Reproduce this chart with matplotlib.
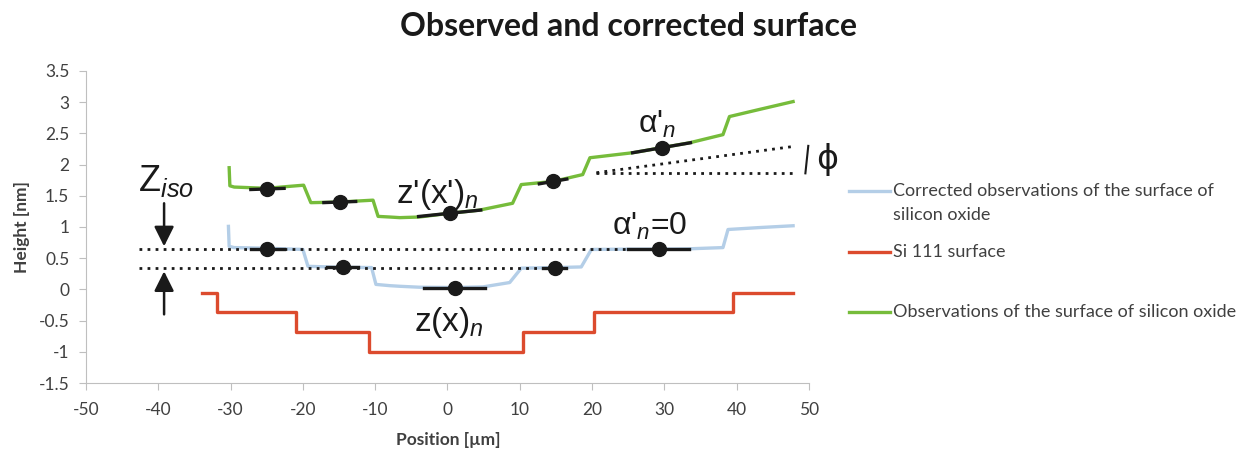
import numpy as np
import matplotlib.pyplot as plt
from matplotlib.lines import Line2D

plt.rcParams['font.family'] = ['Lato', 'DejaVu Sans']
plt.rcParams['axes.unicode_minus'] = False
plt.rcParams['mathtext.fontset'] = 'custom'
plt.rcParams['mathtext.rm'] = 'Liberation Sans'
plt.rcParams['mathtext.it'] = 'Liberation Sans:italic'

# Si 111 surface (drawn as steps)
si_x = [-33.9, -31.9, -21.0, -10.9, 10.5, 20.2, 39.5, 47.8]
si_y = [-0.06, -0.37, -0.69, -1.0, -0.69, -0.37, -0.06, -0.06]

# observed surface of silicon oxide
obs_x = [-30.2, -30.1, -29.5, -25.0, -22.0, -19.9, -18.9, -15.0, -10.3, -9.6, -8.0, -6.6,
         -3.9, 0.3, 4.4, 9.0, 10.2, 14.6, 18.7, 19.7, 25.6, 29.6, 33.5, 38.1, 39.0, 43.0, 47.8]
obs_y = [1.95, 1.66, 1.64, 1.62, 1.65, 1.67, 1.39, 1.40, 1.43, 1.17, 1.16, 1.15,
         1.16, 1.22, 1.27, 1.38, 1.68, 1.73, 1.84, 2.11, 2.19, 2.27, 2.35, 2.48, 2.77, 2.88, 3.01]

# corrected surface
cor_x = [-30.3, -30.2, -29.5, -25.0, -20.0, -19.3, -15.0, -10.5, -9.9, -8.0, -6.6, -3.9,
         1.0, 4.9, 8.6, 10.2, 15.0, 18.5, 19.9, 25.0, 29.2, 33.3, 38.1, 38.8, 43.0, 47.8]
cor_y = [1.01, 0.69, 0.67, 0.66, 0.64, 0.37, 0.355, 0.35, 0.08, 0.06, 0.05, 0.035,
         0.03, 0.04, 0.11, 0.34, 0.35, 0.36, 0.64, 0.645, 0.645, 0.65, 0.67, 0.96, 0.99, 1.02]

# local terrace points with their tangent segments
obs_pt_x = [-24.9, -14.9, 0.3, 14.6, 29.6]
obs_pt_y = [1.61, 1.40, 1.22, 1.73, 2.27]
obs_pt_half = [2.3, 2.2, 4.3, 1.9, 4.0]
obs_pt_slope = [0.004, 0.004, 0.012, 0.02, 0.02]
cor_pt_x = [-24.9, -14.5, 1.0, 14.8, 29.2]
cor_pt_y = [0.655, 0.355, 0.03, 0.35, 0.645]
cor_pt_half = [2.3, 2.1, 4.2, 1.6, 4.2]

# reference levels (dotted)
iso_levels = [0.655, 0.335]
iso_ends = [25.0, 13.2]
phi_x = [20.6, 47.8]
phi_flat = [1.87, 1.87]
phi_tilt = [1.87, 2.29]

labels = ['Corrected observations of the surface of\nsilicon oxide', 'Si 111 surface',
          'Observations of the surface of silicon oxide']
c_blue, c_red, c_green = '#B4CEE7', '#DC4B2E', '#76BC3B'
ink = '#1a1a1a'
grey_txt = '#404040'
sym_font = ['Liberation Sans', 'DejaVu Sans']

W, H = 1257, 454
fig = plt.figure(figsize=(W / 100, H / 100), dpi=100)
ax = fig.add_axes([86 / W, 1 - 383 / H, (809 - 86) / W, (383 - 71) / H])

ax.plot(cor_x, cor_y, color=c_blue, lw=2.4, solid_joinstyle='round')
ax.plot(si_x, si_y, color=c_red, lw=2.4, drawstyle='steps-post')
ax.plot(obs_x, obs_y, color=c_green, lw=2.4, solid_joinstyle='round')

dots = (0, (1, 1.9))
for lev, end in zip(iso_levels, iso_ends):
    ax.plot([-42.7, end], [lev, lev], color=ink, lw=2.0, linestyle=dots)
ax.plot(phi_x, phi_flat, color=ink, lw=2.0, linestyle=dots)
ax.plot(phi_x, phi_tilt, color=ink, lw=2.0, linestyle=dots)

for x, y, h, s in zip(obs_pt_x, obs_pt_y, obs_pt_half, obs_pt_slope):
    ax.plot([x - h, x + h], [y - s * h, y + s * h], color=ink, lw=2.4)
for x, y, h in zip(cor_pt_x, cor_pt_y, cor_pt_half):
    ax.plot([x - h, x + h], [y, y], color=ink, lw=2.4)
ax.plot(obs_pt_x, obs_pt_y, 'o', ms=10, color=ink)
ax.plot(cor_pt_x, cor_pt_y, 'o', ms=10, color=ink)

# annotations
arrow = dict(arrowstyle='-|>,head_length=0.6,head_width=0.3', color=ink, lw=1.8,
             mutation_scale=20, shrinkA=0, shrinkB=0)
ax.annotate('', xy=(-39.2, 0.69), xytext=(-39.2, 1.38), arrowprops=arrow)
ax.annotate('', xy=(-39.2, 0.29), xytext=(-39.2, -0.40), arrowprops=arrow)
ax.text(-42.8, 1.57, r'Z$_{iso}$', fontsize=26, color=ink, va='baseline', family=sym_font)
ax.text(-7.1, 1.39, r"z'(x')$_n$", fontsize=24, color=ink, va='baseline', family=sym_font)
ax.text(-4.6, -0.67, r"z(x)$_n$", fontsize=24, color=ink, va='baseline', family=sym_font)
ax.text(26.3, 2.51, "\u03b1'$_n$", fontsize=23, color=ink, va='baseline', family=sym_font)
ax.text(22.7, 0.88, "\u03b1'$_n$=0", fontsize=23, color=ink, va='baseline', family=sym_font)
ax.plot([49.9, 49.5], [2.30, 1.86], color=ink, lw=1.5, clip_on=False)
ax.text(51.0, 2.08, '\u03d5', fontsize=24, color=ink, va='center', family='DejaVu Sans')

ax.set_xlim(-50, 50)
ax.set_ylim(-1.5, 3.5)
ax.set_xticks(np.arange(-50, 51, 10))
ax.set_yticks(np.arange(-1.5, 3.6, 0.5))
ax.set_yticklabels([f'{v:g}' for v in np.arange(-1.5, 3.6, 0.5)])
for side in ['top', 'right']:
    ax.spines[side].set_visible(False)
for side in ['left', 'bottom']:
    ax.spines[side].set_color('#BFBFBF')
ax.tick_params(axis='both', direction='out', length=5, color='#BFBFBF', labelsize=12.5,
               labelcolor=grey_txt)
ax.tick_params(axis='y', pad=7)
ax.tick_params(axis='x', pad=9)

fig.text(22 / W, 1 - 227 / H, 'Height [nm]', rotation=90, ha='center', va='center',
         fontsize=12.5, weight='bold', color=grey_txt)
fig.text(448 / W, 1 - 440 / H, 'Position [\u00b5m]', ha='center', va='center',
         fontsize=12.5, weight='bold', color=grey_txt)
fig.text(629 / W, 1 - 27 / H, 'Observed and corrected surface', ha='center', va='center',
         fontsize=23, weight='bold', color=ink)

# legend drawn by hand so the handle sits on the first text line
leg_y = [190.5, 251.7, 311.7]
for y, lab, col in zip(leg_y, labels, [c_blue, c_red, c_green]):
    fig.add_artist(Line2D([849 / W, 890 / W], [1 - y / H] * 2, color=col, lw=2.4))
    for k, line in enumerate(lab.split('\n')):
        fig.text(893 / W, 1 - (y + 24 * k) / H, line, va='center', fontsize=13,
                 color=grey_txt)

fig.savefig('out.png', dpi=100)
